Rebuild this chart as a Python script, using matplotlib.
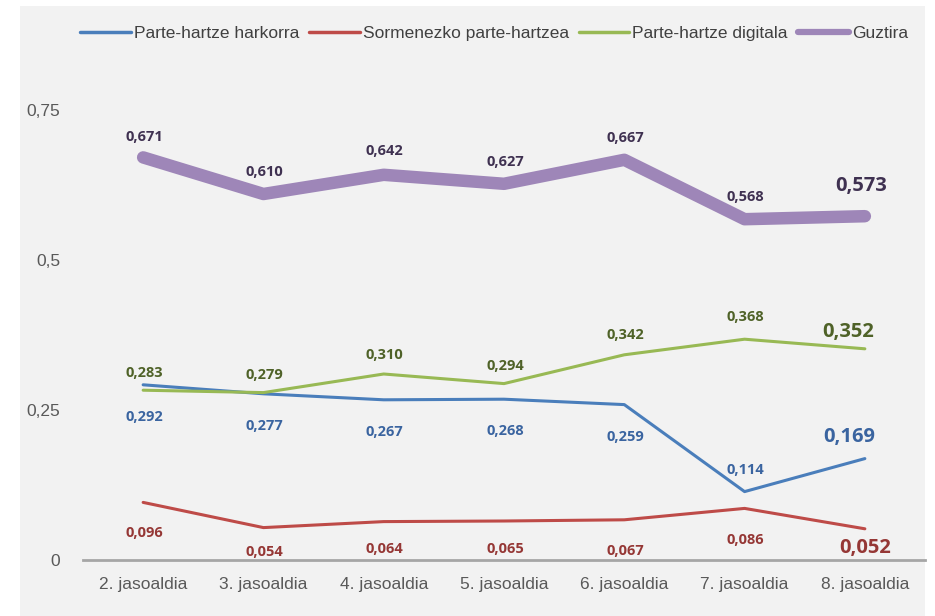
import numpy as np
import matplotlib.pyplot as plt
from matplotlib.patches import Rectangle
from matplotlib.lines import Line2D

plt.rcParams['font.family'] = ['Liberation Sans Narrow', 'Liberation Sans', 'DejaVu Sans']

# data
categories = ["2. jasoaldia", "3. jasoaldia", "4. jasoaldia", "5. jasoaldia",
              "6. jasoaldia", "7. jasoaldia", "8. jasoaldia"]
harkorra   = [0.292, 0.277, 0.267, 0.268, 0.259, 0.114, 0.169]
sormenezko = [0.096, 0.054, 0.064, 0.065, 0.067, 0.086, 0.052]
digitala   = [0.283, 0.279, 0.310, 0.294, 0.342, 0.368, 0.352]
guztira    = [0.671, 0.610, 0.642, 0.627, 0.667, 0.568, 0.573]
yticks     = [0, 0.25, 0.5, 0.75]
ytick_labels = ["0", "0,25", "0,5", "0,75"]

# style: (name, values, line colour, label colour, linewidth, legend lw,
#         label y offsets in px, x offset of the last (big) label in px)
series = [
    ("Parte-hartze harkorra", harkorra, "#4a7ebb", "#3a64a0", 2.2, 2.5,
     [-32, -32, -32, -32, -32, 22, 22], -16),
    ("Sormenezko parte-hartzea", sormenezko, "#be4b48", "#953735", 2.2, 2.5,
     [-31, -24, -27, -28, -31, -32, -19], 0),
    ("Parte-hartze digitala", digitala, "#98b954", "#4f6228", 2.2, 2.5,
     [17, 18, 19, 18, 20, 22, 17], -17),
    ("Guztira", guztira, "#9e86b8", "#3f3151", 9, 4.5,
     [20, 22, 24, 22, 22, 22, 30], -4),
]

fig = plt.figure(figsize=(9.35, 6.16), dpi=100)
fig.patch.set_facecolor("white")
fig.patches.append(Rectangle((20 / 935, 0), 905 / 935, 1 - 6 / 616, transform=fig.transFigure,
                             facecolor="#f2f2f2", edgecolor="none", zorder=-5))
ax = fig.add_axes([83 / 935, 1 - 560 / 616, 842 / 935, 480 / 616])
ax.set_facecolor("none")
ax.set_zorder(2)

x = np.arange(len(categories))
handles = []
for name, vals, col, tcol, lw, leg_lw, offs, last_dx in series:
    ax.plot(x, vals, color=col, linewidth=lw, solid_capstyle="round",
            solid_joinstyle="round", clip_on=False)
    handles.append(Line2D([], [], color=col, linewidth=leg_lw, solid_capstyle="round", label=name))
    for i, v in enumerate(vals):
        last = i == len(vals) - 1
        ax.annotate(f"{v:.3f}".replace(".", ","), (x[i], v),
                    xytext=(last_dx if last else 1, offs[i]), textcoords="offset pixels",
                    ha="center", va="center", color=tcol,
                    fontsize=14.5 if last else 10.5, fontweight="bold",
                    family=["Open Sans", "DejaVu Sans"])

ax.set_xlim(-0.5, 6.5)
ax.set_ylim(0, 0.8)
ax.set_xticks(x)
ax.set_xticklabels(categories, fontsize=12.5, color="#595959")
ax.set_yticks(yticks)
ax.set_yticklabels(ytick_labels, fontsize=12.5, color="#595959")
ax.tick_params(axis="both", length=0)
ax.tick_params(axis="x", pad=12)
ax.tick_params(axis="y", pad=16.5)
for s in ["top", "right", "left"]:
    ax.spines[s].set_visible(False)
ax.spines["bottom"].set_color("#a6a6a6")
ax.spines["bottom"].set_linewidth(2)

fig.legend(handles=handles, loc="center", bbox_to_anchor=(494 / 935, 1 - 33 / 616), ncol=4,
           frameon=False, fontsize=12.5, handlelength=2.9, handletextpad=0.17,
           columnspacing=0.6, labelcolor="#404040")

fig.savefig("out.png", dpi=100, facecolor=fig.get_facecolor())
